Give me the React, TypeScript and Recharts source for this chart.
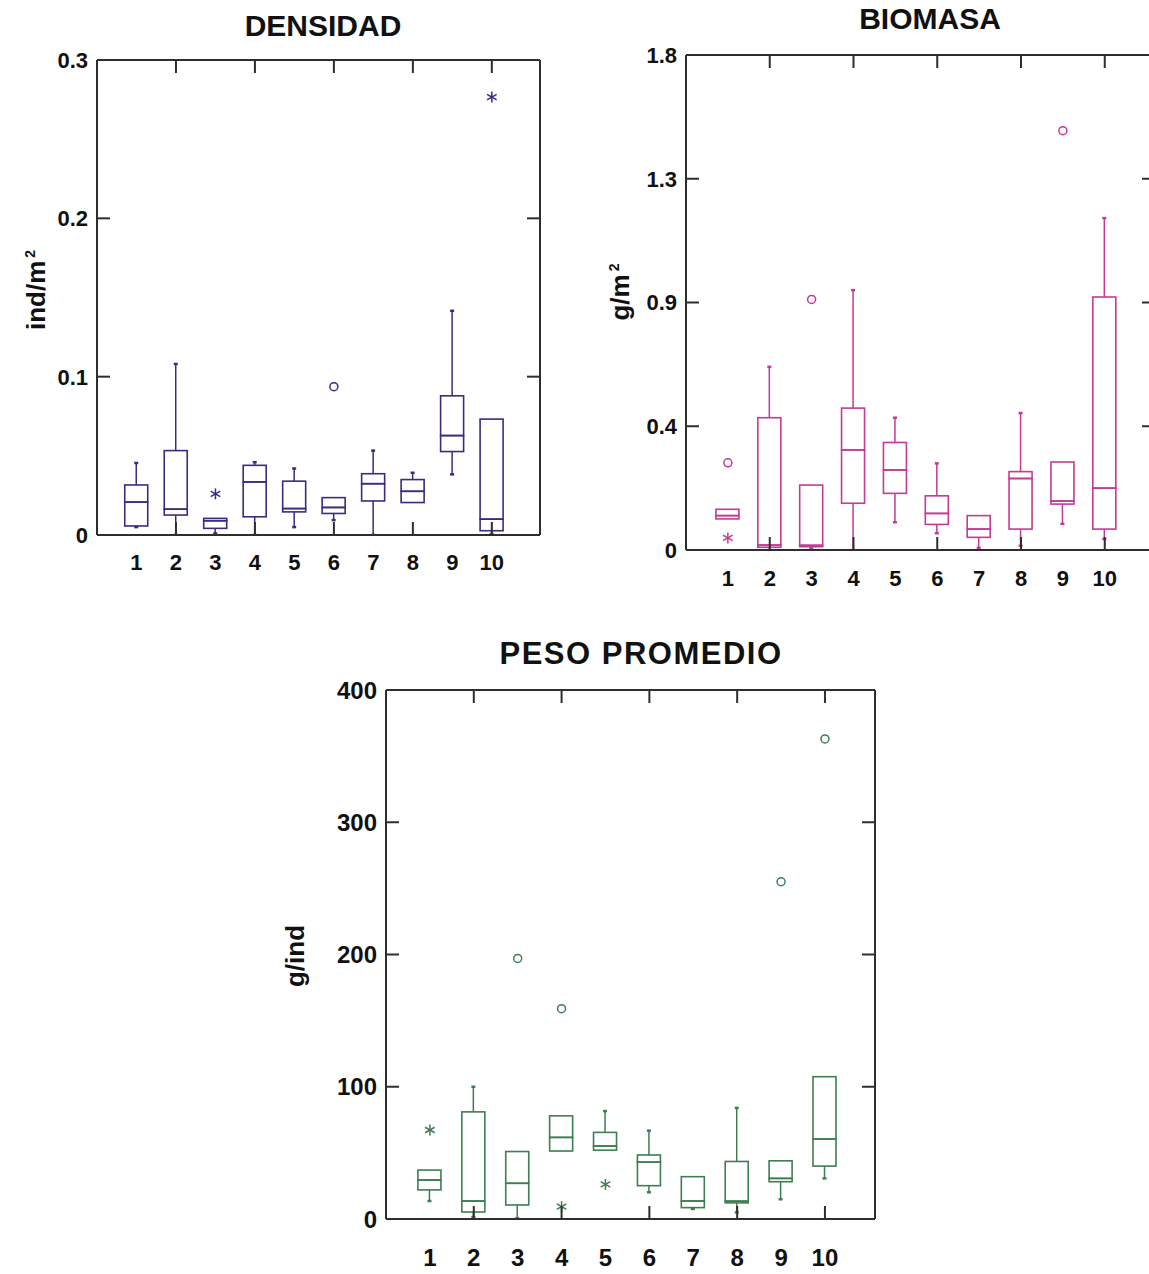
import React from "react";
import { ComposedChart, Bar, Scatter, XAxis, YAxis, ReferenceLine } from "recharts";

const FONT = '"Liberation Sans", Arial, sans-serif';
const FRAME = "#2e2e2e";

const categories = [1, 2, 3, 4, 5, 6, 7, 8, 9, 10];
const evenTicks = [2, 4, 6, 8, 10];

// DENSIDAD (ind/m2)
const densLow = [0.005, 0, 0.001, 0, 0.005, 0.0094, 0, 0.0205, 0.0383, 0.0005];
const densQ1 = [0.0057, 0.0126, 0.0042, 0.0115, 0.0146, 0.0136, 0.0215, 0.0205, 0.0527, 0.0027];
const densMed = [0.0208, 0.0163, 0.009, 0.0335, 0.0167, 0.0174, 0.0324, 0.0276, 0.0628, 0.01];
const densQ3 = [0.0316, 0.0533, 0.0105, 0.044, 0.034, 0.0236, 0.0387, 0.035, 0.0879, 0.0732];
const densHigh = [0.0455, 0.108, 0.0105, 0.046, 0.042, 0.0236, 0.0533, 0.0393, 0.1416, 0.0732];
const densCircles = [{ x: 6, v: 0.0937 }];
const densStars = [{ x: 3, v: 0.026 }, { x: 10, v: 0.2766 }];
const densTicks = [0, 0.1, 0.2, 0.3];

// BIOMASA (g/m2)
const bioLow = [0.113, 0, 0.006, 0, 0.101, 0.061, 0.008, 0.015, 0.095, 0.04];
const bioQ1 = [0.113, 0.01, 0.012, 0.17, 0.206, 0.093, 0.046, 0.076, 0.167, 0.076];
const bioMed = [0.125, 0.018, 0.017, 0.364, 0.291, 0.133, 0.076, 0.26, 0.178, 0.225];
const bioQ3 = [0.148, 0.481, 0.236, 0.516, 0.391, 0.197, 0.125, 0.285, 0.32, 0.92];
const bioHigh = [0.148, 0.666, 0.236, 0.945, 0.481, 0.315, 0.125, 0.498, 0.32, 1.207];
const bioCircles = [{ x: 1, v: 0.317 }, { x: 3, v: 0.911 }, { x: 9, v: 1.525 }];
const bioStars = [{ x: 1, v: 0.044 }];
const bioTicks = [0, 0.45, 0.9, 1.35, 1.8];

// PESO PROMEDIO (g/ind)
const pesoLow = [13.6, 1.5, 0.5, 51.4, 52, 20.2, 7.6, 5, 14.9, 30.7];
const pesoQ1 = [22, 5.3, 10.6, 51.4, 52, 25.2, 8.6, 12.2, 28.2, 40];
const pesoMed = [29.5, 13.6, 27, 61.7, 55.2, 43, 13.6, 13.5, 30.7, 60.5];
const pesoQ3 = [37, 81, 51, 78, 65.5, 48.4, 32, 43.5, 44, 107.6];
const pesoHigh = [37, 100, 51, 78, 81.6, 66.8, 32, 84, 44, 107.6];
const pesoCircles = [{ x: 3, v: 197 }, { x: 4, v: 159 }, { x: 9, v: 255 }, { x: 10, v: 363 }];
const pesoStars = [{ x: 1, v: 67.3 }, { x: 4, v: 9.3 }, { x: 5, v: 26.2 }];
const pesoTicks = [0, 100, 200, 300, 400];

function buildRows(low: number[], q1: number[], med: number[], q3: number[], high: number[]) {
  return categories.map((c, i) => ({
    x: c,
    base: low[i],
    wl: q1[i] - low[i],
    bl: med[i] - q1[i],
    bh: q3[i] - med[i],
    wh: high[i] - q3[i],
  }));
}

const whisker = (color: string, capTop: boolean) => (p: any) => {
  const { x, y, width, height } = p;
  if (!height || height < 0.5) return <g />;
  const cx = x + width / 2;
  const capY = capTop ? y : y + height;
  return (
    <g>
      <line x1={cx} x2={cx} y1={y} y2={y + height} stroke={color} strokeWidth={1.5} />
      <line x1={cx - 2} x2={cx + 2} y1={capY} y2={capY} stroke={color} strokeWidth={2.5} />
    </g>
  );
};

const boxPart = (color: string) => (p: any) => {
  const { x, y, width, height } = p;
  if (!(height > 0)) return <g />;
  return <rect x={x} y={y} width={width} height={height} fill="none" stroke={color} strokeWidth={1.6} />;
};

const circleShape = (color: string) => (p: any) => (
  <circle cx={p.cx} cy={p.cy} r={4} fill="none" stroke={color} strokeWidth={1.5} />
);

const starShape = (color: string) => (p: any) => {
  const r = 5.5;
  return (
    <g stroke={color} strokeWidth={1.5}>
      <line x1={p.cx} y1={p.cy - r} x2={p.cx} y2={p.cy + r} />
      <line x1={p.cx - r * 0.87} y1={p.cy - r * 0.5} x2={p.cx + r * 0.87} y2={p.cy + r * 0.5} />
      <line x1={p.cx - r * 0.87} y1={p.cy + r * 0.5} x2={p.cx + r * 0.87} y2={p.cy - r * 0.5} />
    </g>
  );
};

// short inward tick hanging from the top frame
const topTickShape = (p: any) => {
  const top = Math.min(p.y1, p.y2);
  return <line x1={p.x1} x2={p.x1} y1={top} y2={top + 13} stroke={FRAME} strokeWidth={2} />;
};

// short inward tick on the right frame
const rightTickShape = (p: any) => {
  const right = Math.max(p.x1, p.x2);
  return <line x1={right - 13} x2={right} y1={p.y1} y2={p.y1} stroke={FRAME} strokeWidth={2} />;
};

interface PanelProps {
  L: number;
  T: number;
  R: number;
  B: number;
  xMax: number;
  yMax: number;
  yTicks: number[];
  fmt: (v: number) => string;
  rows: any[];
  circles: { x: number; v: number }[];
  stars: { x: number; v: number }[];
  color: string;
  fs: number;
  gap: number;
}

function BoxPanel({ L, T, R, B, xMax, yMax, yTicks, fmt, rows, circles, stars, color, fs, gap }: PanelProps) {
  const axisW = 70;
  const axisH = 60;
  const mt = 12;
  const mr = 12;
  const width = R - L + axisW + mr;
  const height = B - T + mt + axisH;
  const frameLine = { stroke: FRAME, strokeWidth: 2 };

  const bottomTick = (p: any) => {
    const v = p.payload.value;
    return (
      <g>
        {v % 2 === 0 && <line x1={p.x} x2={p.x} y1={p.y} y2={p.y - 13} stroke={FRAME} strokeWidth={2} />}
        <text x={p.x} y={p.y + gap} textAnchor="middle" fontSize={fs} fontWeight="bold" fill="#111" fontFamily={FONT}>
          {v}
        </text>
      </g>
    );
  };
  const leftTick = (p: any) => {
    const v = p.payload.value;
    const inner = v > 0 && v < yMax;
    return (
      <g>
        {inner && <line x1={p.x} x2={p.x + 13} y1={p.y} y2={p.y} stroke={FRAME} strokeWidth={2} />}
        <text x={p.x - 9} y={p.y + fs * 0.36} textAnchor="end" fontSize={fs} fontWeight="bold" fill="#111" fontFamily={FONT}>
          {fmt(v)}
        </text>
      </g>
    );
  };

  return (
    <div style={{ position: "absolute", left: L - axisW, top: T - mt }}>
      <ComposedChart width={width} height={height} data={rows} margin={{ top: mt, right: mr, bottom: 0, left: 0 }}>
        <XAxis
          xAxisId="b"
          dataKey="x"
          type="number"
          domain={[0, xMax]}
          allowDataOverflow
          ticks={categories}
          interval={0}
          height={axisH}
          tickLine={false}
          tickSize={0}
          tickMargin={0}
          axisLine={frameLine}
          tick={bottomTick}
        />
        <YAxis
          yAxisId="l"
          type="number"
          domain={[0, yMax]}
          allowDataOverflow
          ticks={yTicks}
          interval={0}
          width={axisW}
          tickLine={false}
          tickSize={0}
          tickMargin={0}
          axisLine={frameLine}
          tick={leftTick}
        />
        <ReferenceLine xAxisId="b" yAxisId="l" y={yMax} stroke={FRAME} strokeWidth={2} />
        <ReferenceLine xAxisId="b" yAxisId="l" x={xMax} stroke={FRAME} strokeWidth={2} />
        {evenTicks.map((t) => (
          <ReferenceLine key={"top" + t} xAxisId="b" yAxisId="l" x={t} shape={topTickShape} />
        ))}
        {yTicks
          .filter((v) => v > 0 && v < yMax)
          .map((v) => (
            <ReferenceLine key={"right" + v} xAxisId="b" yAxisId="l" y={v} shape={rightTickShape} />
          ))}
        <Bar xAxisId="b" yAxisId="l" dataKey="base" stackId="box" barSize={23} shape={() => <g />} isAnimationActive={false} />
        <Bar xAxisId="b" yAxisId="l" dataKey="wl" stackId="box" barSize={23} shape={whisker(color, false)} isAnimationActive={false} />
        <Bar xAxisId="b" yAxisId="l" dataKey="bl" stackId="box" barSize={23} shape={boxPart(color)} isAnimationActive={false} />
        <Bar xAxisId="b" yAxisId="l" dataKey="bh" stackId="box" barSize={23} shape={boxPart(color)} isAnimationActive={false} />
        <Bar xAxisId="b" yAxisId="l" dataKey="wh" stackId="box" barSize={23} shape={whisker(color, true)} isAnimationActive={false} />
        <Scatter xAxisId="b" yAxisId="l" data={circles} dataKey="v" shape={circleShape(color)} isAnimationActive={false} />
        <Scatter xAxisId="b" yAxisId="l" data={stars} dataKey="v" shape={starShape(color)} isAnimationActive={false} />
      </ComposedChart>
    </div>
  );
}

const titleStyle = (cx: number, cy: number, fs: number, ls = 0): React.CSSProperties => ({
  position: "absolute",
  left: cx,
  top: cy,
  transform: "translate(-50%, -50%)",
  fontSize: fs,
  fontWeight: "bold",
  lineHeight: 1,
  letterSpacing: ls,
  whiteSpace: "nowrap",
  color: "#111",
});

const yLabelStyle = (cx: number, cy: number, fs: number): React.CSSProperties => ({
  position: "absolute",
  left: cx,
  top: cy,
  transform: "translate(-50%, -50%) rotate(-90deg)",
  fontSize: fs,
  fontWeight: "bold",
  lineHeight: 1,
  whiteSpace: "nowrap",
  color: "#111",
});

const supStyle: React.CSSProperties = { fontSize: 14, verticalAlign: "super", marginLeft: 3 };

export default function App() {
  return (
    <div
      style={{
        position: "absolute",
        left: 0,
        top: 0,
        width: 1149,
        height: 1274,
        overflow: "hidden",
        background: "#fff",
        fontFamily: FONT,
      }}
    >
      <div style={titleStyle(323, 26, 30)}>DENSIDAD</div>
      <div style={yLabelStyle(36, 290, 26)}>
        ind/m<span style={supStyle}>2</span>
      </div>
      <BoxPanel
        L={97}
        T={60}
        R={540}
        B={535}
        xMax={11.22}
        yMax={0.3}
        yTicks={densTicks}
        fmt={(v) => (v === 0 ? "0" : v.toFixed(1))}
        rows={buildRows(densLow, densQ1, densMed, densQ3, densHigh)}
        circles={densCircles}
        stars={densStars}
        color="#3d2b80"
        fs={22}
        gap={35}
      />

      <div style={titleStyle(930, 19, 30)}>BIOMASA</div>
      <div style={yLabelStyle(620, 292, 26)}>
        g/m<span style={supStyle}>2</span>
      </div>
      <BoxPanel
        L={686}
        T={55}
        R={1155}
        B={550}
        xMax={11.2}
        yMax={1.8}
        yTicks={bioTicks}
        fmt={(v) => String(Math.floor(v * 10 + 1e-6) / 10)}
        rows={buildRows(bioLow, bioQ1, bioMed, bioQ3, bioHigh)}
        circles={bioCircles}
        stars={bioStars}
        color="#c43a94"
        fs={22}
        gap={36}
      />

      <div style={titleStyle(641, 653, 31, 1.5)}>PESO PROMEDIO</div>
      <div style={yLabelStyle(295, 956, 26)}>g/ind</div>
      <BoxPanel
        L={386}
        T={690}
        R={875}
        B={1219}
        xMax={11.14}
        yMax={400}
        yTicks={pesoTicks}
        fmt={(v) => String(v)}
        rows={buildRows(pesoLow, pesoQ1, pesoMed, pesoQ3, pesoHigh)}
        circles={pesoCircles}
        stars={pesoStars}
        color="#3f7e52"
        fs={24}
        gap={47}
      />
    </div>
  );
}
